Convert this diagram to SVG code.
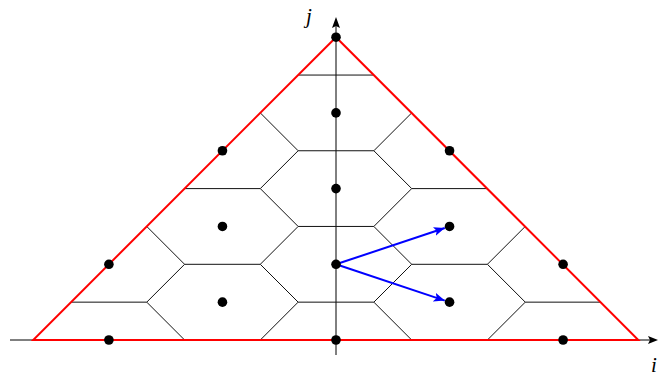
<svg xmlns="http://www.w3.org/2000/svg" width="659" height="376" viewBox="0 0 659 376">
<style>
.grid{fill:none;stroke:#111;stroke-width:1}
.axis{fill:none;stroke:#000;stroke-width:1}
.tri{fill:none;stroke:#ff0000;stroke-width:2;stroke-linejoin:miter}
.dot{fill:#000}
.vec{fill:none;stroke:#0000ff;stroke-width:2}
.lbl{font-family:"Liberation Serif",serif;font-style:italic;font-size:21px;fill:#000}
</style>
<defs>
<marker id="ah" markerUnits="userSpaceOnUse" markerWidth="12" markerHeight="10" refX="11" refY="4.5" orient="auto">
<path d="M0,0 L11,4.5 L0,9 L2.5,4.5 Z" fill="#0000ff"/>
</marker>
</defs>
<g id="axes">
<line class="axis" x1="10" y1="340" x2="651" y2="340"/>
<path d="M658,340 L648,336 L650,340 L648,344 Z" fill="#000"/>
<line class="axis" x1="336" y1="355" x2="336" y2="25"/>
<path d="M336,17 L332,28 L336,26 L340,28 Z" fill="#000"/>
<text class="lbl" x="306" y="23">j</text>
<text class="lbl" x="651" y="372">i</text>
</g>
<g id="grid">
<path class="grid" d="M298.15,302.15H373.85 M525.25,302.15H600.95 M71.05,302.15H146.75 M411.7,264.3H487.4 M184.6,264.3H260.3 M298.15,226.45H373.85 M411.7,188.6H487.4 M184.6,188.6H260.3 M298.15,150.75H373.85 M298.15,75.05H373.85 M373.85,302.15L411.7,340 M298.15,302.15L260.3,340 M525.25,302.15L487.4,340 M146.75,302.15L184.6,340 M487.4,264.3L525.25,302.15 M184.6,264.3L146.75,302.15 M411.7,264.3L373.85,302.15 M260.3,264.3L298.15,302.15 M373.85,226.45L411.7,264.3 M298.15,226.45L260.3,264.3 M525.25,226.45L487.4,264.3 M146.75,226.45L184.6,264.3 M411.7,188.6L373.85,226.45 M260.3,188.6L298.15,226.45 M373.85,150.75L411.7,188.6 M298.15,150.75L260.3,188.6 M411.7,112.9L373.85,150.75 M260.3,112.9L298.15,150.75"/>
</g>
<g id="triangle">
<path class="tri" d="M33.2,340 L638.3,340 L336,37.2 Z"/>
</g>
<g id="connectors">
<line class="vec" x1="336" y1="264.3" x2="444.8" y2="228" marker-end="url(#ah)"/>
<line class="vec" x1="336" y1="264.3" x2="444.8" y2="300.6" marker-end="url(#ah)"/>
</g>
<g id="nodes">
<g id="p0_0"><circle class="dot" cx="336" cy="340" r="4.8"/></g>
<g id="pm6_0"><circle class="dot" cx="108.9" cy="340" r="4.8"/></g>
<g id="p6_0"><circle class="dot" cx="563.1" cy="340" r="4.8"/></g>
<g id="pm3_1"><circle class="dot" cx="222.45" cy="302.15" r="4.8"/></g>
<g id="p3_1"><circle class="dot" cx="449.55" cy="302.15" r="4.8"/></g>
<g id="p0_2"><circle class="dot" cx="336" cy="264.3" r="4.8"/></g>
<g id="pm6_2"><circle class="dot" cx="108.9" cy="264.3" r="4.8"/></g>
<g id="p6_2"><circle class="dot" cx="563.1" cy="264.3" r="4.8"/></g>
<g id="pm3_3"><circle class="dot" cx="222.45" cy="226.45" r="4.8"/></g>
<g id="p3_3"><circle class="dot" cx="449.55" cy="226.45" r="4.8"/></g>
<g id="p0_4"><circle class="dot" cx="336" cy="188.6" r="4.8"/></g>
<g id="pm3_5"><circle class="dot" cx="222.45" cy="150.75" r="4.8"/></g>
<g id="p3_5"><circle class="dot" cx="449.55" cy="150.75" r="4.8"/></g>
<g id="p0_6"><circle class="dot" cx="336" cy="112.9" r="4.8"/></g>
<g id="p0_8"><circle class="dot" cx="336" cy="37.2" r="4.8"/></g>
</g>
</svg>
